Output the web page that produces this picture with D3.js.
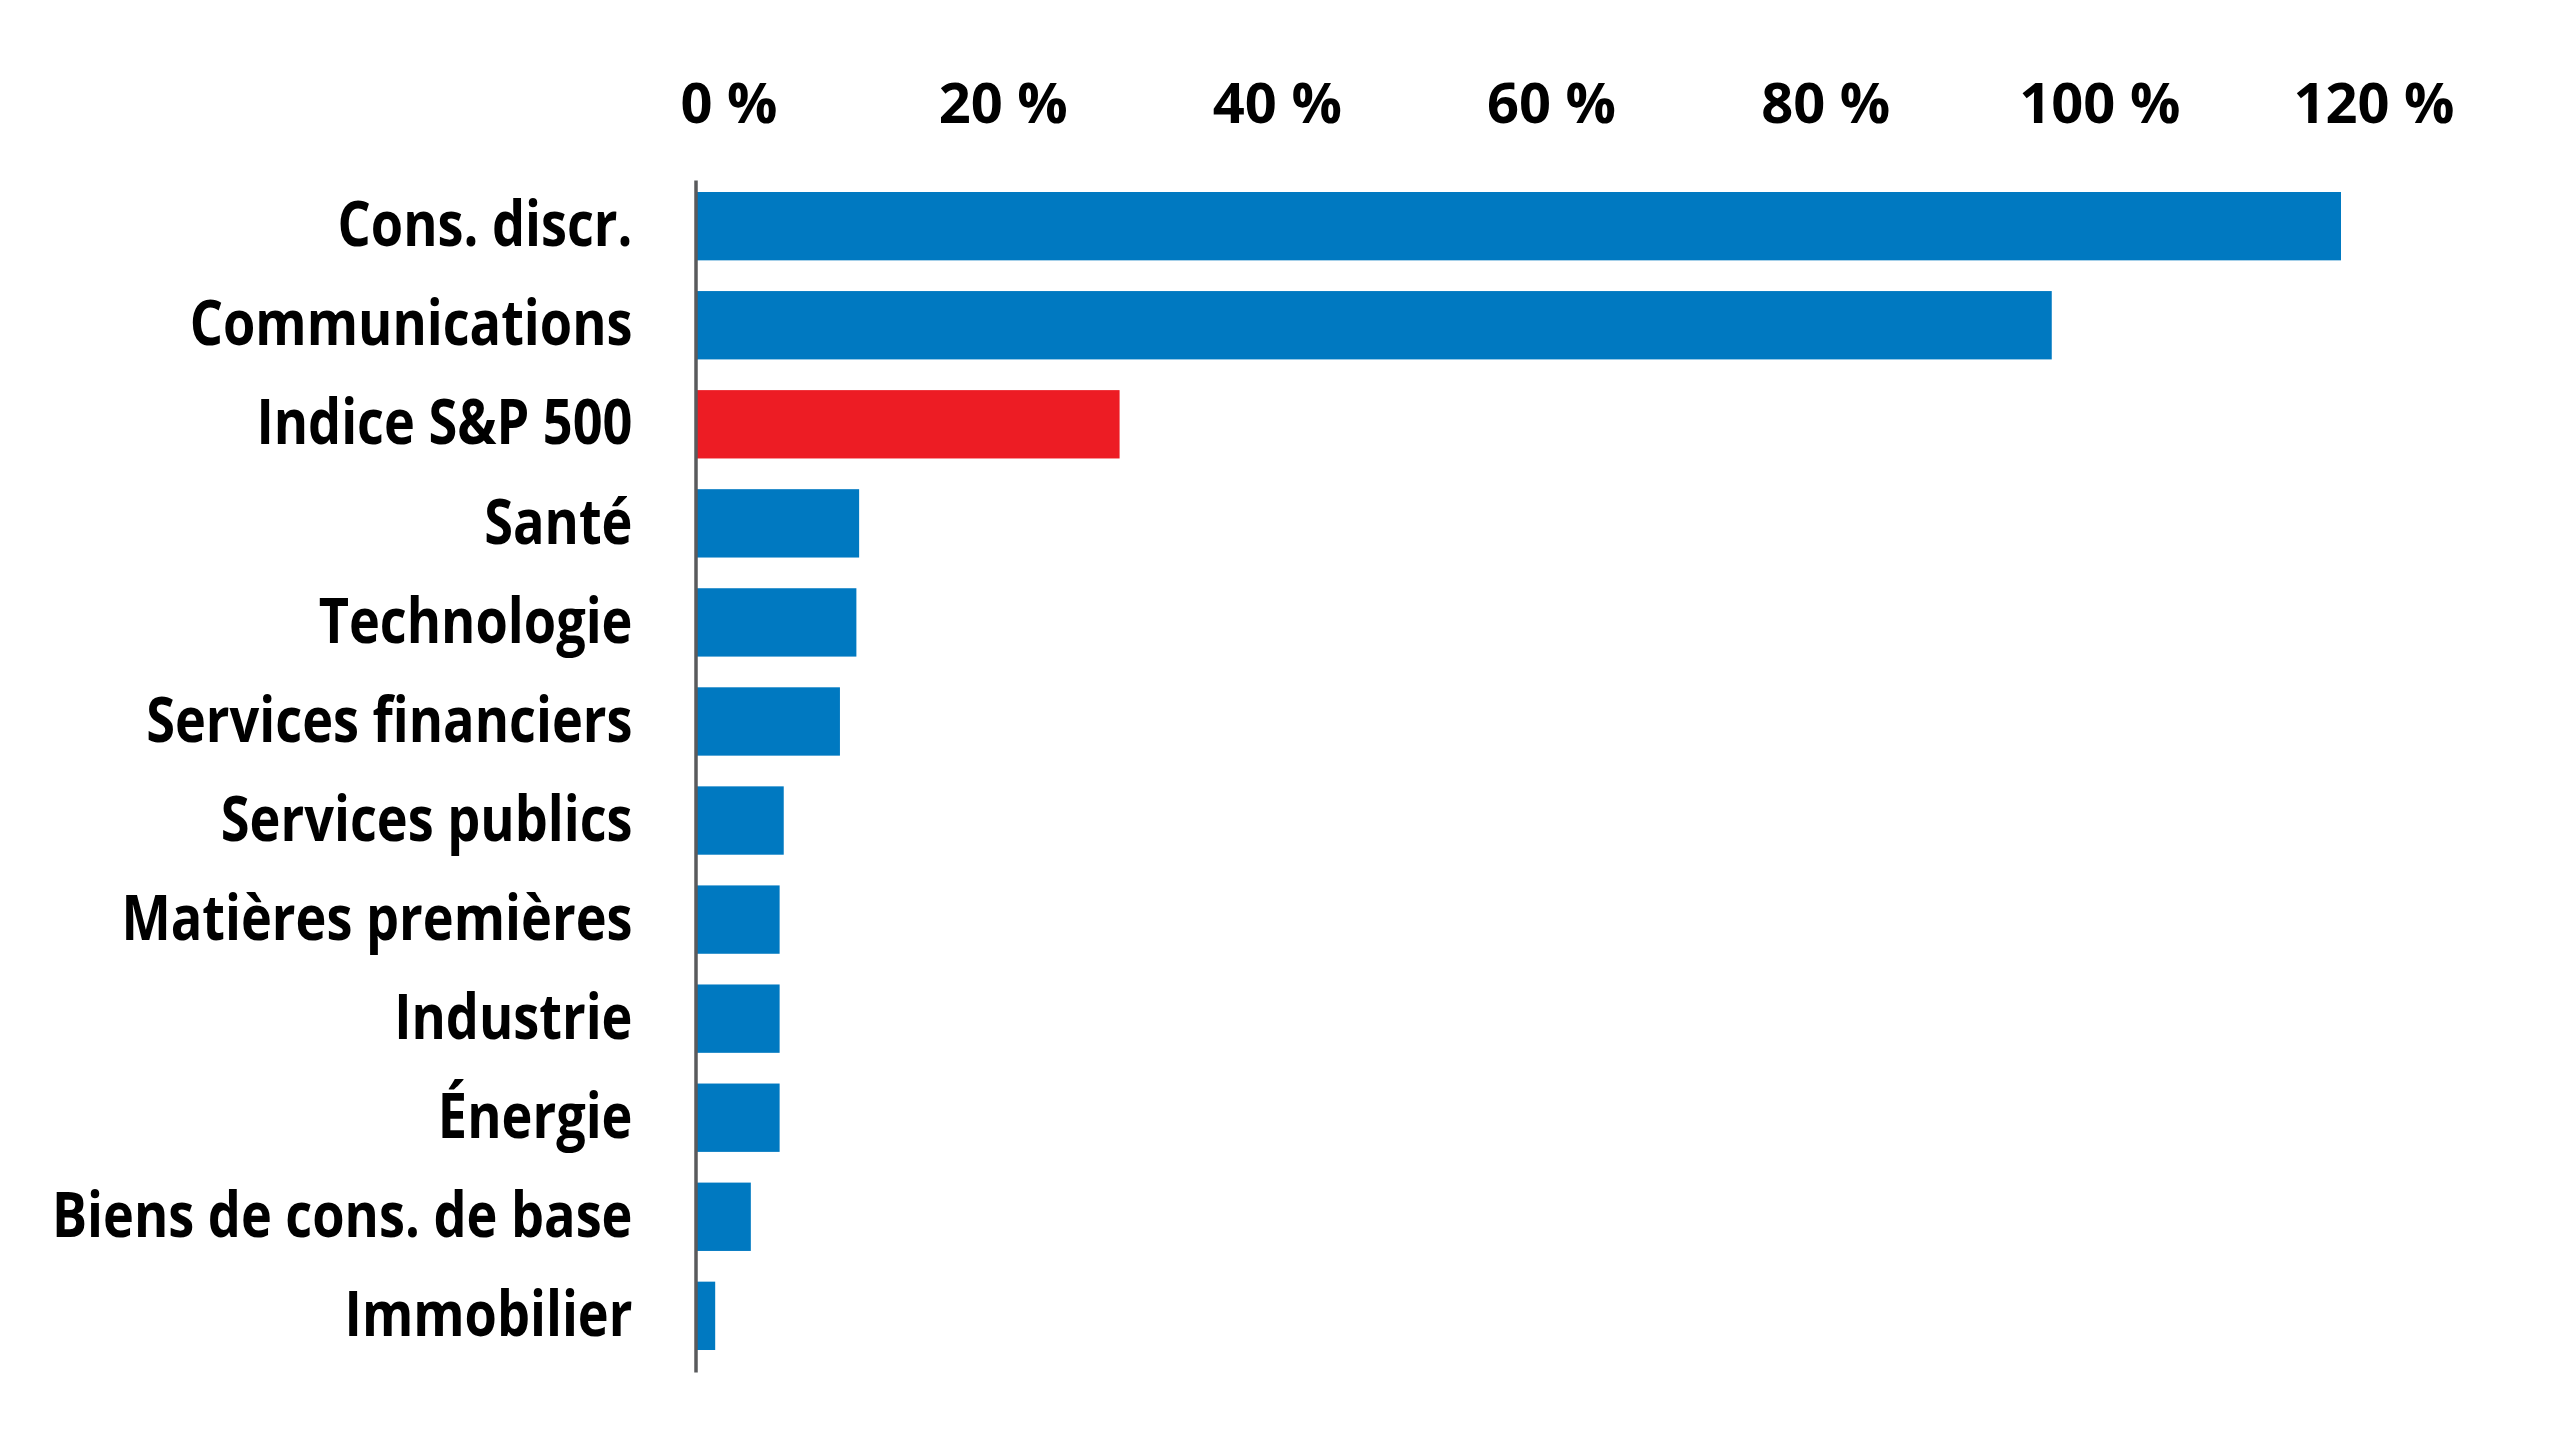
<!DOCTYPE html>
<html>
<head>
<meta charset="utf-8">
<script src="https://cdn.jsdelivr.net/npm/d3@7"></script>
<style>
    body { margin: 0; background: #fff; }
    .catAxis text { font-family: 'Open Sans', 'DejaVu Sans', sans-serif; font-weight: 700; }
    .valAxis text { font-family: 'Open Sans', 'DejaVu Sans', sans-serif; font-weight: 700; }
</style>
</head>
<body>
<script>
const categories = ['Cons. discr.', 'Communications', 'Indice S&P 500', 'Santé', 'Technologie', 'Services financiers',
    'Services publics', 'Matières premières', 'Industrie', 'Énergie', 'Biens de cons. de base', 'Immobilier'];
const values = [120.0, 98.9, 30.9, 11.9, 11.7, 10.5, 6.4, 6.1, 6.1, 6.1, 4.0, 1.4];
const highlight = 'Indice S&P 500';
const tickValues = [0, 20, 40, 60, 80, 100, 120];

const width = 2573,
    height = 1434;

// the labels in the original use a condensed face, squeeze a normal one
const squeeze = 0.83,
    labelGap = 63;

const svg = d3.select('body').append('svg')
    .attr('width', width)
    .attr('height', height)
    .attr('viewBox', [0, 0, width, height]);

const x = d3.scaleLinear()
    .domain([0, 120])
    .range([696, 2341]);

const y = d3.scaleBand()
    .domain(categories)
    .range([180, 1372])
    .paddingInner(0.31)
    .paddingOuter(0.1716)
    .align(0.353);

// bars
svg.append('g')
    .selectAll('rect')
    .data(categories.map((c, i) => ({ name: c, value: values[i] })))
    .join('rect')
    .attr('x', x(0))
    .attr('y', d => y(d.name))
    .attr('width', d => x(d.value) - x(0))
    .attr('height', y.bandwidth())
    .attr('fill', d => d.name == highlight ? '#ED1C24' : '#0079C1');

// category axis
svg.append('g')
    .classed('catAxis', true)
    .attr('transform', 'translate(' + (x(0) - 0.5) + ' 0)')
    .call(d3.axisLeft(y).tickSize(0).tickPadding(labelGap))
    .call(g => g.select('.domain').attr('stroke', '#595a5c').attr('stroke-width', 3.5))
    .call(g => g.selectAll('.tick text')
        .attr('font-size', 63)
        .attr('fill', '#000')
        .attr('x', -labelGap / squeeze)
        .attr('transform', 'scale(' + squeeze + ' 1)'));

// value axis on top, number centred on the tick and ' %' after it
svg.append('g')
    .classed('valAxis', true)
    .attr('transform', 'translate(0 123)')
    .call(d3.axisTop(x).tickValues(tickValues).tickSize(0).tickPadding(0))
    .call(g => g.select('.domain').remove())
    .call(g => g.selectAll('.tick text')
        .attr('font-size', 56)
        .attr('fill', '#000')
        .each(function (d) {
            const t = d3.select(this);
            t.text(d);
            const w = this.getComputedTextLength();
            t.text(d + ' %')
                .attr('text-anchor', 'start')
                .attr('x', -w / 2);
        }));
</script>
</body>
</html>
